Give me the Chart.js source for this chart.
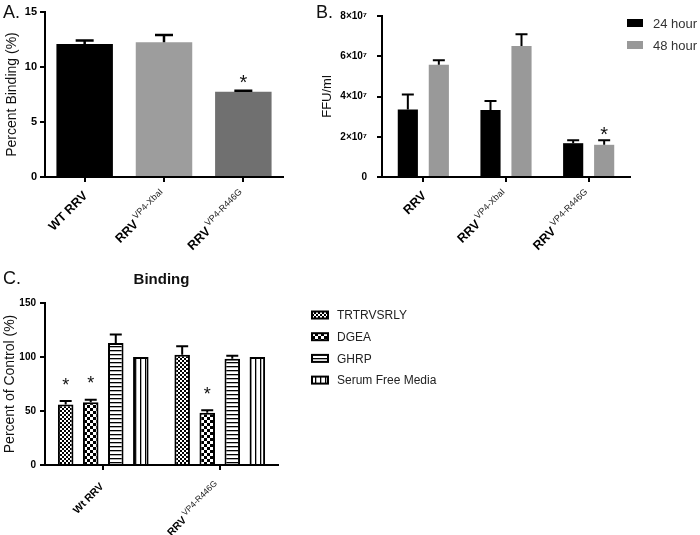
<!DOCTYPE html>
<html>
<head>
<meta charset="utf-8">
<script src="https://cdn.jsdelivr.net/npm/chart.js@4/dist/chart.umd.min.js"></script>
<style>
  body { margin: 0; background: #fff; }
  #page { position: relative; width: 700px; height: 535px; overflow: hidden; font-family: 'Liberation Sans', Arial, sans-serif; }
  .box { position: absolute; }
  .tag { position: absolute; font-size: 18px; color: #111; }
</style>
</head>
<body>
<div id="page">
  <div class="box" style="left:0;top:0;width:300px;height:260px"><canvas id="chartA" width="300" height="260"></canvas></div>
  <div class="box" style="left:320px;top:0;width:380px;height:260px"><canvas id="chartB" width="380" height="260"></canvas></div>
  <div class="box" style="left:0;top:270px;width:450px;height:265px"><canvas id="chartC" width="450" height="265"></canvas></div>
  <div class="tag" style="left:3px;top:2px">A.</div>
  <div class="tag" style="left:316px;top:2px">B.</div>
  <div class="tag" style="left:3px;top:268px">C.</div>
</div>
<script>
const FONT = "'Liberation Sans', Arial, sans-serif";

// panel A - percent binding
const mainA = ['WT RRV', 'RRV', 'RRV'];
const supA = ['', 'VP4-XbaI', 'VP4-R446G'];
const valA = [12.1, 12.25, 7.75];
const errA = [0.3, 0.65, 0.1];
const starA = [false, false, true];
const colorA = ['#000000', '#9d9d9d', '#707070'];

// panel B - FFU/ml
const mainB = ['RRV', 'RRV', 'RRV'];
const supB = ['', 'VP4-XbaI', 'VP4-R446G'];
const h24 = [3.36e7, 3.33e7, 1.68e7];
const h24Err = [0.74e7, 0.45e7, 0.15e7];
const h48 = [5.58e7, 6.51e7, 1.6e7];
const h48Err = [0.22e7, 0.58e7, 0.23e7];
const star48 = [false, false, true];

// panel C - binding, percent of control
const mainC = ['Wt RRV', 'RRV'];
const supC = ['', 'VP4-R446G'];
const seriesC = ['TRTRVSRLY', 'DGEA', 'GHRP', 'Serum Free Media'];
const trtr = [56, 102];
const trtrErr = [3.2, 8];
const dgea = [58.2, 48.3];
const dgeaErr = [2.3, 2.4];
const ghrp = [113, 98.3];
const ghrpErr = [7.8, 2.9];
const sfm = [100, 100];
const starTrtr = [true, false];
const starDgea = [true, true];

function makePattern(kind) {
    const c = document.createElement('canvas');
    const g = c.getContext('2d');
    if (kind === 'fine') {
        c.width = 4; c.height = 4;
        g.fillStyle = '#fff'; g.fillRect(0, 0, 4, 4);
        g.fillStyle = '#000'; g.fillRect(0, 0, 2, 2); g.fillRect(2, 2, 2, 2);
    } else if (kind === 'check') {
        c.width = 6; c.height = 6;
        g.fillStyle = '#fff'; g.fillRect(0, 0, 6, 6);
        g.fillStyle = '#000'; g.fillRect(0, 0, 3, 3); g.fillRect(3, 3, 3, 3);
    } else if (kind === 'hline') {
        c.width = 4; c.height = 4;
        g.fillStyle = '#fff'; g.fillRect(0, 0, 4, 4);
        g.fillStyle = '#000'; g.fillRect(0, 0, 4, 1.3);
    } else {
        c.width = 5; c.height = 5;
        g.fillStyle = '#fff'; g.fillRect(0, 0, 5, 5);
        g.fillStyle = '#000'; g.fillRect(0, 0, 1.3, 5);
    }
    return g.createPattern(c, 'repeat');
}

// error bars (upper only) and significance stars
const barExtras = {
    id: 'barExtras',
    afterDatasetsDraw(chart, args, opts) {
        const ctx = chart.ctx;
        const y = chart.scales.y;
        chart.data.datasets.forEach((ds, i) => {
            chart.getDatasetMeta(i).data.forEach((bar, j) => {
                const err = ds.errors ? ds.errors[j] : 0;
                const top = y.getPixelForValue(ds.data[j] + err);
                ctx.save();
                if (err > 0) {
                    ctx.strokeStyle = '#000';
                    ctx.lineWidth = opts.lineWidth;
                    ctx.beginPath();
                    ctx.moveTo(bar.x, bar.y);
                    ctx.lineTo(bar.x, top);
                    ctx.moveTo(bar.x - opts.cap / 2, top);
                    ctx.lineTo(bar.x + opts.cap / 2, top);
                    ctx.stroke();
                }
                if (ds.stars && ds.stars[j]) {
                    ctx.fillStyle = '#111';
                    ctx.font = opts.starSize + 'px ' + FONT;
                    ctx.textAlign = 'center';
                    ctx.textBaseline = 'alphabetic';
                    ctx.fillText('*', bar.x, top - opts.starGap + opts.starSize * 0.58);
                }
                ctx.restore();
            });
        });
    }
};

// rotated category labels with superscript part
const rotLabels = {
    id: 'rotLabels',
    afterDraw(chart, args, opts) {
        const ctx = chart.ctx;
        const x = chart.scales.x;
        const base = chart.chartArea.bottom;
        opts.main.forEach((m, i) => {
            const px = x.getPixelForValue(i);
            ctx.save();
            ctx.translate(px + opts.dx, base + opts.dy);
            ctx.rotate(-Math.PI / 4);
            ctx.textBaseline = 'middle';
            ctx.textAlign = 'left';
            ctx.fillStyle = '#000';
            const sup = opts.sup[i] || '';
            ctx.font = 'normal ' + opts.supSize + 'px ' + FONT;
            const sw = sup ? ctx.measureText(sup).width + 2 : 0;
            ctx.font = 'bold ' + opts.size + 'px ' + FONT;
            const mw = ctx.measureText(m).width;
            ctx.fillText(m, -mw - sw, 0);
            if (sup) {
                ctx.font = 'normal ' + opts.supSize + 'px ' + FONT;
                ctx.fillStyle = '#222';
                ctx.fillText(sup, -sw + 2, -opts.raise);
            }
            ctx.restore();
        });
    }
};

// legend placed beside the plot
const sideLegend = {
    id: 'sideLegend',
    afterDraw(chart, args, opts) {
        const ctx = chart.ctx;
        chart.data.datasets.forEach((ds, i) => {
            const cy = opts.y + i * opts.step;
            ctx.save();
            ctx.fillStyle = ds.backgroundColor;
            ctx.fillRect(opts.x, cy - opts.boxH / 2, opts.boxW, opts.boxH);
            if (ds.borderWidth) {
                ctx.strokeStyle = '#000';
                ctx.lineWidth = 2;
                ctx.strokeRect(opts.x, cy - opts.boxH / 2, opts.boxW, opts.boxH);
            }
            ctx.fillStyle = opts.color;
            ctx.font = opts.size + 'px ' + FONT;
            ctx.textBaseline = 'middle';
            ctx.fillText(ds.label, opts.x + opts.textGap, cy + 1);
            ctx.restore();
        });
    }
};

function axisX(height) {
    return {
        grid: { offset: false, drawOnChartArea: false, color: '#000', lineWidth: 2, tickLength: 5 },
        border: { color: '#000', width: 2 },
        ticks: { display: false },
        afterFit: s => { s.height = height; }
    };
}

function axisY(width, min, max, step, tickSize, tickPad, title, titleSize, titlePad, cb) {
    return {
        min: min, max: max,
        grid: { drawOnChartArea: false, color: '#000', lineWidth: 2, tickLength: 5 },
        border: { color: '#000', width: 2 },
        ticks: { stepSize: step, color: '#000', padding: tickPad, font: { family: FONT, size: tickSize, weight: 'bold' }, callback: cb },
        title: { display: true, text: title, color: '#111', font: { family: FONT, size: titleSize }, padding: { top: titlePad, bottom: 0 } },
        afterFit: s => { s.width = width; }
    };
}

Chart.defaults.font.family = FONT;

new Chart(document.getElementById('chartA'), {
    type: 'bar',
    data: {
        labels: mainA,
        datasets: [{ data: valA, errors: errA, stars: starA, backgroundColor: colorA, categoryPercentage: 0.8, barPercentage: 0.89 }]
    },
    options: {
        responsive: false, animation: false,
        layout: { padding: { left: 0, top: 12, right: 17, bottom: 0 } },
        plugins: {
            legend: { display: false }, tooltip: { enabled: false },
            barExtras: { cap: 18, lineWidth: 2.5, starSize: 20, starGap: 13 },
            rotLabels: { main: mainA, sup: supA, size: 12.5, supSize: 9, raise: 5, dx: 1, dy: 17 }
        },
        scales: {
            x: axisX(83),
            y: axisY(45, 0, 15, 5, 11, 3, 'Percent Binding (%)', 14, 4)
        }
    },
    plugins: [barExtras, rotLabels]
});

new Chart(document.getElementById('chartB'), {
    type: 'bar',
    data: {
        labels: mainB,
        datasets: [
            { label: '24 hour', data: h24, errors: h24Err, backgroundColor: '#000000', categoryPercentage: 0.75, barPercentage: 0.65 },
            { label: '48 hour', data: h48, errors: h48Err, stars: star48, backgroundColor: '#999999', categoryPercentage: 0.75, barPercentage: 0.65 }
        ]
    },
    options: {
        responsive: false, animation: false,
        layout: { padding: { left: 0, top: 12, right: 70, bottom: 0 } },
        plugins: {
            legend: { display: false }, tooltip: { enabled: false },
            barExtras: { cap: 12, lineWidth: 2, starSize: 20, starGap: 11 },
            rotLabels: { main: mainB, sup: supB, size: 12.5, supSize: 9, raise: 5, dx: 1, dy: 17 },
            sideLegend: { x: 307, y: 23, step: 22, boxW: 16, boxH: 8, textGap: 26, size: 13, color: '#333' }
        },
        scales: {
            x: axisX(83),
            y: axisY(62, 0, 8e7, 2e7, 10, 10, 'FFU/ml', 13, 0, v => v === 0 ? '0' : (v / 1e7) + '×10⁷')
        }
    },
    plugins: [barExtras, rotLabels, sideLegend]
});

const cOpts = { borderColor: '#000', borderWidth: 2, categoryPercentage: 0.86, barPercentage: 0.62 };
new Chart(document.getElementById('chartC'), {
    type: 'bar',
    data: {
        labels: mainC,
        datasets: [
            Object.assign({ label: seriesC[0], data: trtr, errors: trtrErr, stars: starTrtr, backgroundColor: makePattern('fine') }, cOpts),
            Object.assign({ label: seriesC[1], data: dgea, errors: dgeaErr, stars: starDgea, backgroundColor: makePattern('check') }, cOpts),
            Object.assign({ label: seriesC[2], data: ghrp, errors: ghrpErr, backgroundColor: makePattern('hline') }, cOpts),
            Object.assign({ label: seriesC[3], data: sfm, backgroundColor: makePattern('vline') }, cOpts)
        ]
    },
    options: {
        responsive: false, animation: false,
        layout: { padding: { left: 0, top: 0, right: 172, bottom: 0 } },
        plugins: {
            legend: { display: false }, tooltip: { enabled: false },
            title: { display: true, text: 'Binding', fullSize: false, color: '#111', font: { family: FONT, size: 15, weight: 'bold' }, padding: { top: 1, bottom: 14 } },
            barExtras: { cap: 12, lineWidth: 2, starSize: 18, starGap: 21 },
            rotLabels: { main: mainC, sup: supC, size: 10.5, supSize: 8.5, raise: 4, dx: -1, dy: 20 },
            sideLegend: { x: 312, y: 45, step: 21.7, boxW: 16, boxH: 7, textGap: 25, size: 12, color: '#222' }
        },
        scales: {
            x: axisX(70),
            y: axisY(45, 0, 150, 50, 10, 4, 'Percent of Control (%)', 14, 2)
        }
    },
    plugins: [barExtras, rotLabels, sideLegend]
});
</script>
</body>
</html>
